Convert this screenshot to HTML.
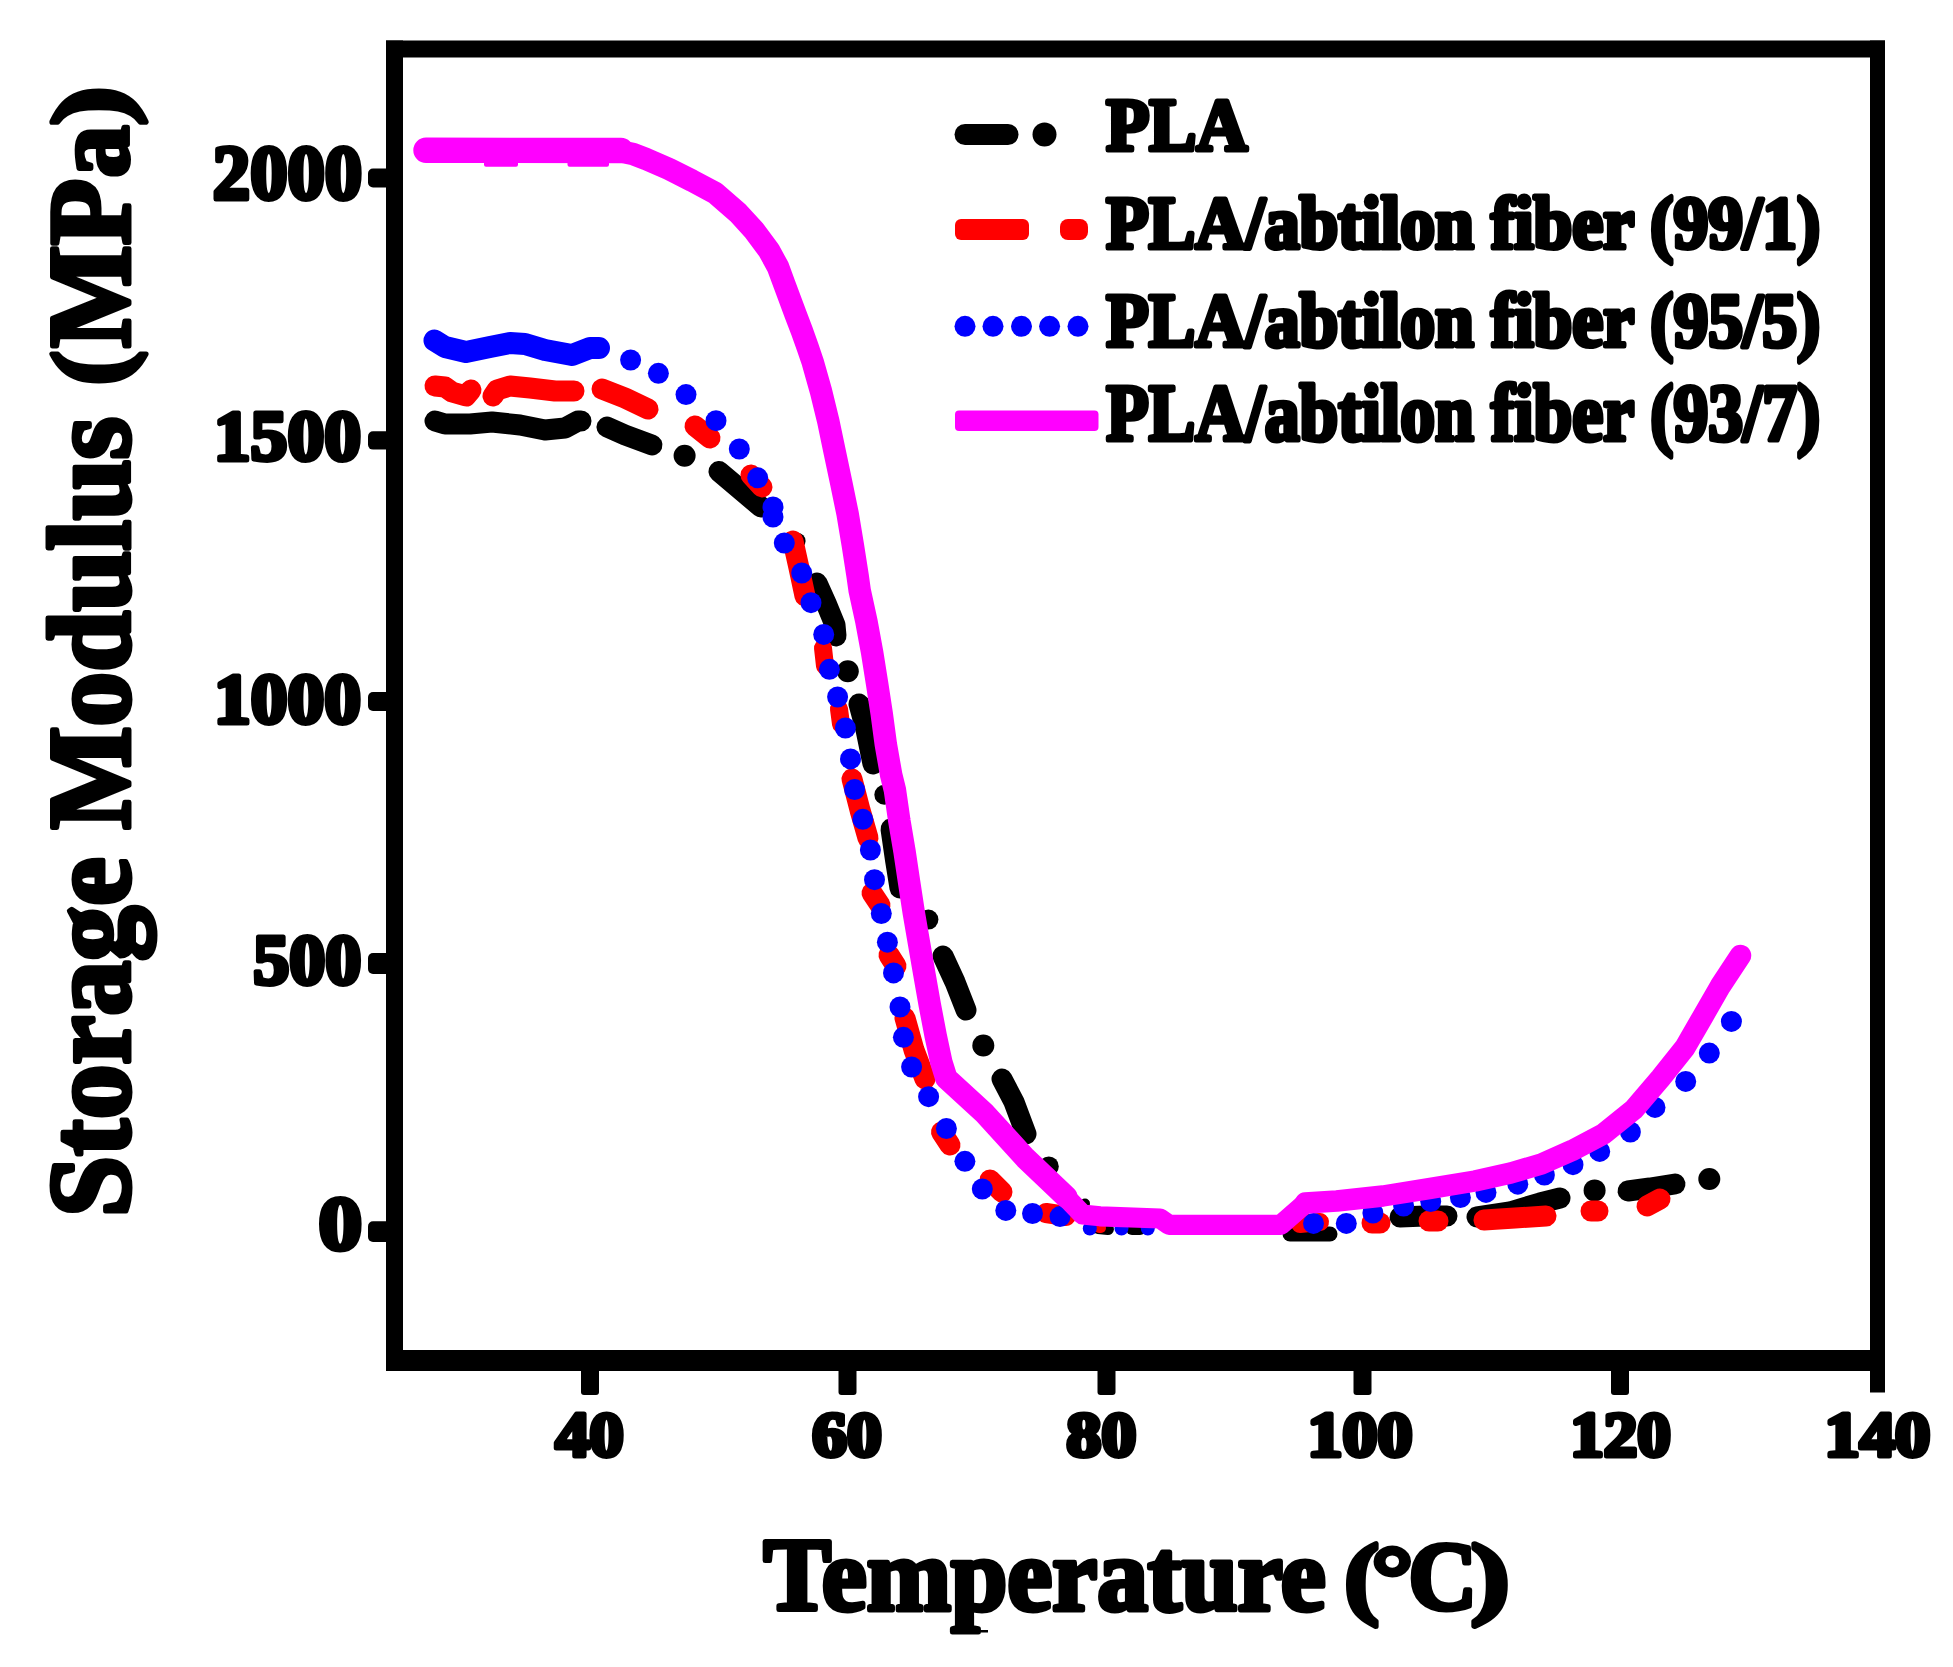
<!DOCTYPE html>
<html lang="en">
<head>
<meta charset="utf-8">
<title>Storage Modulus vs Temperature</title>
<style>
html,body{margin:0;padding:0;background:#fff;}
body{width:1953px;height:1667px;overflow:hidden;font-family:"Liberation Serif",serif;}
svg{display:block;}
</style>
</head>
<body>
<svg width="1953" height="1667" viewBox="0 0 1953 1667">
<rect width="1953" height="1667" fill="#fff"/>
<g id="curves">
<polyline points="435.0,421.0 445.0,424.0 470.0,424.0 492.0,422.0 520.0,425.0 545.0,430.0 565.0,428.0 578.0,421.0 581.0,421.0" fill="none" stroke="#000000" stroke-width="21" stroke-linecap="round" stroke-linejoin="round" />
<polyline points="607.0,427.0 625.0,435.0 652.0,445.0" fill="none" stroke="#000000" stroke-width="21" stroke-linecap="round" stroke-linejoin="round" />
<circle cx="684.6" cy="455.8" r="11" fill="#000000"/>
<line x1="719.0" y1="471.5" x2="761.0" y2="507.0" stroke="#000000" stroke-width="21" stroke-linecap="round"/>
<circle cx="797.6" cy="541.0" r="8" fill="#000000"/>
<polyline points="817.0,583.0 826.0,603.0 835.0,625.0 836.0,636.0" fill="none" stroke="#000000" stroke-width="21" stroke-linecap="round" stroke-linejoin="round" />
<circle cx="847.8" cy="671.3" r="11" fill="#000000"/>
<polyline points="859.0,704.0 866.0,730.0 873.0,764.0" fill="none" stroke="#000000" stroke-width="21" stroke-linecap="round" stroke-linejoin="round" />
<circle cx="884.3" cy="794.7" r="10" fill="#000000"/>
<polyline points="891.0,829.0 895.5,860.0 900.0,888.0" fill="none" stroke="#000000" stroke-width="21" stroke-linecap="round" stroke-linejoin="round" />
<circle cx="928.4" cy="919.6" r="10" fill="#000000"/>
<polyline points="943.0,956.0 955.0,982.0 966.0,1010.0" fill="none" stroke="#000000" stroke-width="21" stroke-linecap="round" stroke-linejoin="round" />
<circle cx="983.3" cy="1045.5" r="11" fill="#000000"/>
<polyline points="1002.0,1079.0 1014.0,1102.0 1026.0,1134.0" fill="none" stroke="#000000" stroke-width="21" stroke-linecap="round" stroke-linejoin="round" />
<circle cx="1048.8" cy="1166.4" r="10" fill="#000000"/>
<circle cx="1085.0" cy="1203.5" r="5" fill="#000000"/>
<line x1="1098.0" y1="1228.0" x2="1108.0" y2="1229.0" stroke="#000000" stroke-width="12" stroke-linecap="round"/>
<line x1="1132.0" y1="1229.0" x2="1140.0" y2="1229.0" stroke="#000000" stroke-width="12" stroke-linecap="round"/>
<line x1="1290.0" y1="1234.0" x2="1330.0" y2="1234.0" stroke="#000000" stroke-width="15" stroke-linecap="round"/>
<polyline points="1400.0,1217.0 1425.0,1216.0 1447.0,1216.0" fill="none" stroke="#000000" stroke-width="21" stroke-linecap="round" stroke-linejoin="round" />
<polyline points="1477.0,1217.0 1510.0,1212.0 1540.0,1203.0 1560.0,1198.0" fill="none" stroke="#000000" stroke-width="21" stroke-linecap="round" stroke-linejoin="round" />
<circle cx="1594.6" cy="1190.4" r="11" fill="#000000"/>
<polyline points="1628.0,1191.0 1650.0,1188.0 1675.0,1184.0" fill="none" stroke="#000000" stroke-width="21" stroke-linecap="round" stroke-linejoin="round" />
<circle cx="1709.3" cy="1179.0" r="11" fill="#000000"/>
<polyline points="435.0,386.0 445.0,387.0 452.0,392.0 466.0,396.0 471.0,390.0" fill="none" stroke="#ff0000" stroke-width="21" stroke-linecap="round" stroke-linejoin="round" />
<polyline points="493.0,396.0 497.0,390.0 510.0,386.0 530.0,388.0 555.0,391.0 574.0,391.0" fill="none" stroke="#ff0000" stroke-width="21" stroke-linecap="round" stroke-linejoin="round" />
<polyline points="602.0,389.0 625.0,398.0 648.0,409.0" fill="none" stroke="#ff0000" stroke-width="21" stroke-linecap="round" stroke-linejoin="round" />
<line x1="695.0" y1="426.0" x2="710.0" y2="438.0" stroke="#ff0000" stroke-width="21" stroke-linecap="round"/>
<line x1="751.0" y1="475.0" x2="762.0" y2="487.0" stroke="#ff0000" stroke-width="21" stroke-linecap="round"/>
<polyline points="793.0,541.0 799.0,568.0 805.0,596.0" fill="none" stroke="#ff0000" stroke-width="21" stroke-linecap="round" stroke-linejoin="round" />
<line x1="823.0" y1="648.0" x2="825.0" y2="666.0" stroke="#ff0000" stroke-width="18" stroke-linecap="round"/>
<line x1="839.0" y1="709.0" x2="841.0" y2="724.0" stroke="#ff0000" stroke-width="18" stroke-linecap="round"/>
<polyline points="852.0,779.0 860.0,810.0 868.0,838.0" fill="none" stroke="#ff0000" stroke-width="21" stroke-linecap="round" stroke-linejoin="round" />
<line x1="872.0" y1="893.0" x2="880.0" y2="905.0" stroke="#ff0000" stroke-width="21" stroke-linecap="round"/>
<line x1="889.0" y1="955.0" x2="896.0" y2="966.0" stroke="#ff0000" stroke-width="21" stroke-linecap="round"/>
<polyline points="905.0,1018.0 914.0,1050.0 925.0,1079.0" fill="none" stroke="#ff0000" stroke-width="21" stroke-linecap="round" stroke-linejoin="round" />
<line x1="941.5" y1="1132.0" x2="950.0" y2="1145.0" stroke="#ff0000" stroke-width="21" stroke-linecap="round"/>
<line x1="990.0" y1="1180.0" x2="1002.0" y2="1192.0" stroke="#ff0000" stroke-width="21" stroke-linecap="round"/>
<line x1="1046.0" y1="1213.0" x2="1066.0" y2="1216.0" stroke="#ff0000" stroke-width="20" stroke-linecap="round"/>
<line x1="1099.0" y1="1228.0" x2="1101.0" y2="1228.0" stroke="#ff0000" stroke-width="10" stroke-linecap="round"/>
<line x1="1300.0" y1="1224.0" x2="1320.0" y2="1222.0" stroke="#ff0000" stroke-width="18" stroke-linecap="round"/>
<line x1="1372.0" y1="1223.0" x2="1380.0" y2="1223.0" stroke="#ff0000" stroke-width="21" stroke-linecap="round"/>
<line x1="1429.0" y1="1221.0" x2="1438.0" y2="1221.0" stroke="#ff0000" stroke-width="21" stroke-linecap="round"/>
<polyline points="1484.0,1220.0 1515.0,1218.0 1546.0,1216.0" fill="none" stroke="#ff0000" stroke-width="21" stroke-linecap="round" stroke-linejoin="round" />
<line x1="1591.0" y1="1211.0" x2="1598.0" y2="1211.0" stroke="#ff0000" stroke-width="21" stroke-linecap="round"/>
<line x1="1647.0" y1="1206.0" x2="1660.0" y2="1199.0" stroke="#ff0000" stroke-width="21" stroke-linecap="round"/>
<polyline points="434.5,340.5 445.0,347.0 466.0,352.0 490.0,347.0 510.0,343.0 525.0,344.0 545.0,350.0 572.0,355.0 590.0,348.0 599.0,348.0" fill="none" stroke="#0000ff" stroke-width="22" stroke-linecap="round" stroke-linejoin="round" />
<circle cx="630.6" cy="360.0" r="10.5" fill="#0000ff"/>
<circle cx="658.4" cy="373.3" r="10.5" fill="#0000ff"/>
<circle cx="686.0" cy="394.6" r="10.5" fill="#0000ff"/>
<circle cx="716.0" cy="420.7" r="10.5" fill="#0000ff"/>
<circle cx="739.3" cy="449.0" r="10.5" fill="#0000ff"/>
<circle cx="757.7" cy="477.8" r="10.5" fill="#0000ff"/>
<circle cx="773.0" cy="507.0" r="10.5" fill="#0000ff"/>
<circle cx="773.0" cy="517.0" r="10.5" fill="#0000ff"/>
<circle cx="784.3" cy="543.0" r="10.5" fill="#0000ff"/>
<circle cx="801.7" cy="573.0" r="10.5" fill="#0000ff"/>
<circle cx="811.0" cy="602.7" r="10.5" fill="#0000ff"/>
<circle cx="823.7" cy="634.4" r="10.5" fill="#0000ff"/>
<circle cx="829.4" cy="669.3" r="10.5" fill="#0000ff"/>
<circle cx="837.6" cy="697.0" r="10.5" fill="#0000ff"/>
<circle cx="845.4" cy="728.0" r="10.5" fill="#0000ff"/>
<circle cx="850.5" cy="758.9" r="10.5" fill="#0000ff"/>
<circle cx="854.6" cy="789.6" r="10.5" fill="#0000ff"/>
<circle cx="862.8" cy="819.3" r="10.5" fill="#0000ff"/>
<circle cx="870.4" cy="850.0" r="10.5" fill="#0000ff"/>
<circle cx="874.5" cy="879.7" r="10.5" fill="#0000ff"/>
<circle cx="881.3" cy="913.5" r="10.5" fill="#0000ff"/>
<circle cx="887.4" cy="942.2" r="10.5" fill="#0000ff"/>
<circle cx="893.5" cy="972.9" r="10.5" fill="#0000ff"/>
<circle cx="900.0" cy="1007.0" r="10.5" fill="#0000ff"/>
<circle cx="903.4" cy="1037.3" r="10.5" fill="#0000ff"/>
<circle cx="911.6" cy="1067.0" r="10.5" fill="#0000ff"/>
<circle cx="928.6" cy="1096.7" r="10.5" fill="#0000ff"/>
<circle cx="946.4" cy="1128.5" r="10.5" fill="#0000ff"/>
<circle cx="964.9" cy="1161.3" r="10.5" fill="#0000ff"/>
<circle cx="982.3" cy="1189.0" r="10.5" fill="#0000ff"/>
<circle cx="1005.8" cy="1210.4" r="10.5" fill="#0000ff"/>
<circle cx="1032.5" cy="1213.5" r="10.5" fill="#0000ff"/>
<circle cx="1060.0" cy="1216.6" r="10.5" fill="#0000ff"/>
<circle cx="1313.5" cy="1223.4" r="10.5" fill="#0000ff"/>
<circle cx="1346.3" cy="1223.4" r="10.5" fill="#0000ff"/>
<circle cx="1372.9" cy="1213.0" r="10.5" fill="#0000ff"/>
<circle cx="1403.6" cy="1206.0" r="10.5" fill="#0000ff"/>
<circle cx="1430.7" cy="1201.6" r="10.5" fill="#0000ff"/>
<circle cx="1460.4" cy="1197.5" r="10.5" fill="#0000ff"/>
<circle cx="1486.0" cy="1192.4" r="10.5" fill="#0000ff"/>
<circle cx="1517.8" cy="1184.2" r="10.5" fill="#0000ff"/>
<circle cx="1544.4" cy="1175.0" r="10.5" fill="#0000ff"/>
<circle cx="1573.0" cy="1164.7" r="10.5" fill="#0000ff"/>
<circle cx="1599.7" cy="1151.4" r="10.5" fill="#0000ff"/>
<circle cx="1630.4" cy="1132.0" r="10.5" fill="#0000ff"/>
<circle cx="1655.0" cy="1107.4" r="10.5" fill="#0000ff"/>
<circle cx="1685.7" cy="1081.4" r="10.5" fill="#0000ff"/>
<circle cx="1709.3" cy="1053.1" r="10.5" fill="#0000ff"/>
<circle cx="1731.4" cy="1021.4" r="10.5" fill="#0000ff"/>
<circle cx="1089.8" cy="1228.5" r="7" fill="#0000ff"/>
<circle cx="1121.5" cy="1228.5" r="7" fill="#0000ff"/>
<circle cx="1147.8" cy="1228.5" r="7" fill="#0000ff"/>
<polyline points="426.0,150.5 520.0,151.0 610.0,151.0 621.0,151.5 633.0,154.0 646.0,159.0 669.0,169.0 692.0,180.6 715.2,193.0 738.2,213.0 753.6,229.8 769.0,250.5 778.0,267.0 784.4,284.3 795.8,315.0 801.9,331.0 807.6,347.0 812.7,362.0 821.0,391.4 828.5,422.2 834.9,452.9 841.4,483.6 847.7,514.3 852.8,545.0 857.6,575.8 859.7,590.7 866.4,621.4 872.1,652.2 877.0,682.9 881.7,713.6 885.8,744.3 891.2,775.0 894.9,790.0 899.3,820.7 904.5,851.4 909.1,882.2 913.8,912.9 919.1,943.6 924.4,974.3 929.8,1005.0 935.7,1035.8 941.3,1062.0 946.4,1078.3 984.3,1113.0 1025.3,1158.0 1066.3,1197.0" fill="none" stroke="#ff00ff" stroke-width="22.5" stroke-linecap="round" stroke-linejoin="round" />
<polyline points="1066.3,1197.5 1082.6,1214.5 1100.0,1216.3 1160.0,1218.5 1169.0,1224.8 1280.7,1224.8 1305.3,1203.4" fill="none" stroke="#ff00ff" stroke-width="20.2" stroke-linecap="round" stroke-linejoin="round" />
<polyline points="1305.3,1203.0 1336.8,1201.0 1382.9,1196.0 1429.0,1188.7 1475.0,1181.0 1510.7,1173.0 1541.4,1164.0 1572.2,1150.4 1602.9,1134.3 1633.6,1109.7 1660.5,1078.2 1685.0,1047.5 1702.7,1016.8 1720.4,986.0 1740.5,955.5" fill="none" stroke="#ff00ff" stroke-width="21.5" stroke-linecap="round" stroke-linejoin="round" />
<polyline points="426.0,150.3 621.0,150.5" fill="none" stroke="#ff00ff" stroke-width="25.4" stroke-linecap="round" stroke-linejoin="round" />
<rect x="484" y="155" width="34" height="11.8" rx="2" fill="#f0f"/><rect x="567.5" y="155" width="41.5" height="11.8" rx="2" fill="#f0f"/>
</g>
<g id="frame">
<rect x="386" y="40.5" width="17" height="1330.5" fill="#000"/>
<rect x="1870" y="40.5" width="15" height="1352" fill="#000"/>
<rect x="386" y="40.5" width="1499" height="17" fill="#000"/>
<rect x="386" y="1350" width="1499" height="21" fill="#000"/>
<rect x="581.0" y="1360" width="18" height="35" rx="3" fill="#000"/>
<rect x="838.5" y="1360" width="18" height="35" rx="3" fill="#000"/>
<rect x="1097.5" y="1360" width="18" height="35" rx="3" fill="#000"/>
<rect x="1353.5" y="1360" width="18" height="35" rx="3" fill="#000"/>
<rect x="1611.0" y="1360" width="18" height="35" rx="3" fill="#000"/>
<rect x="368" y="168.5" width="30" height="19.0" rx="5" fill="#000"/>
<rect x="368" y="431.3" width="30" height="18.3" rx="5" fill="#000"/>
<rect x="368" y="692" width="30" height="19.0" rx="5" fill="#000"/>
<rect x="368" y="953" width="30" height="21.0" rx="5" fill="#000"/>
<rect x="368" y="1221.2" width="30" height="20.8" rx="5" fill="#000"/>
</g>
<g id="labels">
<text x="555.4" y="1455.8" font-size="63.3" stroke-width="5" textLength="68.3" lengthAdjust="spacingAndGlyphs" font-family="Liberation Serif, serif" font-weight="bold" fill="#000" stroke="#000" stroke-linejoin="round">40</text>
<text x="812.2" y="1455.8" font-size="63.3" stroke-width="5" textLength="69.6" lengthAdjust="spacingAndGlyphs" font-family="Liberation Serif, serif" font-weight="bold" fill="#000" stroke="#000" stroke-linejoin="round">60</text>
<text x="1066.6" y="1455.8" font-size="63.3" stroke-width="5" textLength="69.6" lengthAdjust="spacingAndGlyphs" font-family="Liberation Serif, serif" font-weight="bold" fill="#000" stroke="#000" stroke-linejoin="round">80</text>
<text x="1307.6" y="1455.8" font-size="63.3" stroke-width="5" textLength="105.0" lengthAdjust="spacingAndGlyphs" font-family="Liberation Serif, serif" font-weight="bold" fill="#000" stroke="#000" stroke-linejoin="round">100</text>
<text x="1570.2" y="1455.8" font-size="63.3" stroke-width="5" textLength="100.6" lengthAdjust="spacingAndGlyphs" font-family="Liberation Serif, serif" font-weight="bold" fill="#000" stroke="#000" stroke-linejoin="round">120</text>
<text x="1824.5" y="1455.8" font-size="63.3" stroke-width="5" textLength="105.8" lengthAdjust="spacingAndGlyphs" font-family="Liberation Serif, serif" font-weight="bold" fill="#000" stroke="#000" stroke-linejoin="round">140</text>
<text x="212.8" y="198.5" font-size="77.3" stroke-width="5" textLength="149.4" lengthAdjust="spacingAndGlyphs" font-family="Liberation Serif, serif" font-weight="bold" fill="#000" stroke="#000" stroke-linejoin="round">2000</text>
<text x="213.8" y="460.1" font-size="72.5" stroke-width="5" textLength="147.2" lengthAdjust="spacingAndGlyphs" font-family="Liberation Serif, serif" font-weight="bold" fill="#000" stroke="#000" stroke-linejoin="round">1500</text>
<text x="213.9" y="723.0" font-size="71.4" stroke-width="5" textLength="147.0" lengthAdjust="spacingAndGlyphs" font-family="Liberation Serif, serif" font-weight="bold" fill="#000" stroke="#000" stroke-linejoin="round">1000</text>
<text x="253.2" y="984.1" font-size="71.4" stroke-width="5" textLength="108.1" lengthAdjust="spacingAndGlyphs" font-family="Liberation Serif, serif" font-weight="bold" fill="#000" stroke="#000" stroke-linejoin="round">500</text>
<text x="318.4" y="1249.2" font-size="77" stroke-width="5" textLength="43.6" lengthAdjust="spacingAndGlyphs" font-family="Liberation Serif, serif" font-weight="bold" fill="#000" stroke="#000" stroke-linejoin="round">0</text>
<text stroke-width="5" font-family="Liberation Serif, serif" font-weight="bold" fill="#000" stroke="#000" stroke-linejoin="round"><tspan x="763.6" y="1609.6" font-size="102.8" textLength="562.2" lengthAdjust="spacingAndGlyphs">Temperature</tspan><tspan font-size="10"> </tspan><tspan x="1344.3" y="1607.2" font-size="91.1" textLength="34.9" lengthAdjust="spacingAndGlyphs">(</tspan><tspan x="1371.6" y="1606.8" font-size="88.7" textLength="41.7" lengthAdjust="spacingAndGlyphs">°</tspan><tspan x="1408.6" y="1608.6" font-size="96.8" textLength="68.5" lengthAdjust="spacingAndGlyphs">C</tspan><tspan x="1470.8" y="1607.2" font-size="91.1" textLength="39.0" lengthAdjust="spacingAndGlyphs">)</tspan></text>
<rect x="957" y="1630" width="31" height="2.5" fill="#000"/>
<text transform="translate(130,1220) rotate(-90)" stroke-width="5" font-family="Liberation Serif, serif" font-weight="bold" fill="#000" stroke="#000" stroke-linejoin="round"><tspan x="3.1" y="-1.0" font-size="115.5" textLength="359.5" lengthAdjust="spacingAndGlyphs">Storage</tspan><tspan font-size="10"> </tspan><tspan x="390.5" y="-1.1" font-size="115.7" textLength="412.6" lengthAdjust="spacingAndGlyphs">Modulus</tspan><tspan font-size="10"> </tspan><tspan x="834.4" y="-5.8" font-size="103.6" textLength="34.8" lengthAdjust="spacingAndGlyphs">(</tspan><tspan x="872.1" y="-1.1" font-size="115.7" textLength="169.0" lengthAdjust="spacingAndGlyphs">MP</tspan><tspan x="1042.5" y="-2.7" font-size="105.2" textLength="52.0" lengthAdjust="spacingAndGlyphs">a</tspan><tspan x="1094.2" y="-5.8" font-size="103.6" textLength="39.5" lengthAdjust="spacingAndGlyphs">)</tspan></text>
</g>
<g id="legend">
<line x1="965.0" y1="134.5" x2="1008.0" y2="134.5" stroke="#000000" stroke-width="21" stroke-linecap="round"/>
<circle cx="1044.5" cy="134.5" r="12" fill="#000000"/>
<rect x="955" y="219" width="74" height="21" rx="6" fill="#f00"/>
<rect x="1060" y="219" width="28" height="21" rx="8" fill="#f00"/>
<circle cx="965.0" cy="326.3" r="10.5" fill="#0000ff"/>
<circle cx="993.0" cy="326.3" r="10.5" fill="#0000ff"/>
<circle cx="1021.5" cy="326.3" r="10.5" fill="#0000ff"/>
<circle cx="1049.6" cy="326.3" r="10.5" fill="#0000ff"/>
<circle cx="1078.0" cy="326.3" r="10.5" fill="#0000ff"/>
<rect x="955" y="410.5" width="143.5" height="20.5" rx="4" fill="#f0f"/>
<text x="1106.3" y="149.7" font-size="73.6" stroke-width="5" textLength="141" lengthAdjust="spacingAndGlyphs" font-family="Liberation Serif, serif" font-weight="bold" fill="#000" stroke="#000" stroke-linejoin="round">PLA</text>
<text x="1106.3" y="248.0" font-size="73.6" stroke-width="5" textLength="714" lengthAdjust="spacingAndGlyphs" font-family="Liberation Serif, serif" font-weight="bold" fill="#000" stroke="#000" stroke-linejoin="round">PLA/abtilon fiber (99/1)</text>
<text x="1106.3" y="345.8" font-size="76.0" stroke-width="5" textLength="714" lengthAdjust="spacingAndGlyphs" font-family="Liberation Serif, serif" font-weight="bold" fill="#000" stroke="#000" stroke-linejoin="round">PLA/abtilon fiber (95/5)</text>
<text x="1106.3" y="440.3" font-size="81.0" stroke-width="5" textLength="714" lengthAdjust="spacingAndGlyphs" font-family="Liberation Serif, serif" font-weight="bold" fill="#000" stroke="#000" stroke-linejoin="round">PLA/abtilon fiber (93/7)</text>
</g>
</svg>
</body>
</html>
